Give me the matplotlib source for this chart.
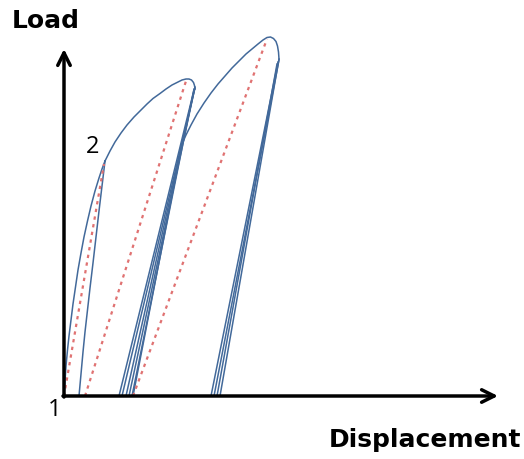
import matplotlib
matplotlib.use("Agg")
import matplotlib.pyplot as plt

# schematic load / displacement curve, units
load1_x = [0, 0.1, 0.2, 0.35, 0.5, 0.7, 0.9, 1.15, 1.4, 1.7, 2.0, 2.35, 2.7, 3.1, 3.5, 3.8, 4.1]
load1_y = [0, 1.5, 3.0, 4.6, 6.0, 7.6, 9.2, 10.9, 12.6, 14.3, 15.9, 17.5, 19.0, 20.5, 21.8, 22.7, 23.5]

unload1_x = [4.1, 3.8, 3.5, 3.2, 2.9, 2.6, 2.35, 2.1, 1.9, 1.7, 1.5]
unload1_y = [23.5, 21.0, 18.5, 15.9, 13.3, 10.8, 8.6, 6.4, 4.4, 2.2, 0]

load2_x = [4.1, 4.6, 5.1, 5.7, 6.3, 7.0, 7.6, 8.3, 8.9, 9.6, 10.2, 10.8, 11.4, 11.8, 12.2, 12.5, 12.75, 12.95, 13.05, 13.1]
load2_y = [23.5, 24.5, 25.4, 26.3, 27.1, 27.9, 28.5, 29.2, 29.75, 30.25, 30.7, 31.1, 31.4, 31.6, 31.7, 31.7, 31.6, 31.35, 31.05, 30.7]

load3_x = [6.9, 11.8, 12.2, 12.7, 13.3, 14.0, 14.7, 15.4, 16.1, 16.8, 17.5, 18.2, 18.8, 19.4, 19.9, 20.3, 20.65, 20.95, 21.2, 21.35, 21.45, 21.5]
load3_y = [0, 25.2, 26.1, 27.1, 28.2, 29.3, 30.3, 31.2, 32.0, 32.8, 33.5, 34.2, 34.7, 35.2, 35.6, 35.85, 35.9, 35.75, 35.45, 35.0, 34.4, 33.7]

# cyclic unload/reload bundles: foot on the x axis, top near the peak
bundle1_foot = [5.5, 5.8, 6.2, 6.5, 6.8]
bundle1_top_x = [13.0, 13.1, 13.0, 13.1, 13.0]
bundle1_top_y = [30.6, 30.8, 30.5, 30.9, 30.7]

bundle2_foot = [14.7, 15.0, 15.3, 15.6]
bundle2_top_x = [21.4, 21.5, 21.3, 21.5]
bundle2_top_y = [33.4, 33.6, 33.2, 33.7]

# secant (dashed) lines
sec_x0 = [0, 2.1, 6.9]
sec_x1 = [4.0, 12.2, 20.3]
sec_y1 = [23.2, 31.5, 35.7]

blue = "#42699a"
red = "#e07272"

fig = plt.figure(figsize=(5.24, 4.60), dpi=100)
ax = fig.add_axes([0, 0, 1, 1])
ax.set_xlim(-6.4, 46.0)
ax.set_ylim(-6.3, 39.7)
ax.axis("off")

lw = 1.1
for xs, ys in [(load1_x, load1_y), (unload1_x, unload1_y), (load2_x, load2_y), (load3_x, load3_y)]:
    ax.plot(xs, ys, color=blue, lw=lw, solid_joinstyle="round")
for f, tx, ty in zip(bundle1_foot, bundle1_top_x, bundle1_top_y):
    ax.plot([f, tx], [0, ty], color=blue, lw=lw)
for f, tx, ty in zip(bundle2_foot, bundle2_top_x, bundle2_top_y):
    ax.plot([f, tx], [0, ty], color=blue, lw=lw)

for x0, x1, y1 in zip(sec_x0, sec_x1, sec_y1):
    ax.plot([x0, x1], [0, y1], color=red, lw=1.6, ls=(0, (1.5, 2.0)))

# axes arrows
arrow = dict(arrowstyle="->,head_length=0.9,head_width=0.45", lw=2.5, color="black",
             shrinkA=0, shrinkB=0)
ax.annotate("", xy=(0, 34.7), xytext=(0, -0.1), arrowprops=arrow)
ax.annotate("", xy=(43.4, 0), xytext=(-0.1, 0), arrowprops=arrow)

ax.text(-5.2, 37.6, "Load", fontsize=18, fontweight="bold", family="DejaVu Sans",
        ha="left", va="center")
ax.text(45.7, -4.3, "Displacement", fontsize=18, fontweight="bold", family="DejaVu Sans",
        ha="right", va="center")
ax.text(-0.9, -1.3, "1", fontsize=17, family="Open Sans", ha="center", va="center")
ax.text(2.9, 25.0, "2", fontsize=17, family="Open Sans", ha="center", va="center")

fig.savefig("out.png", dpi=100)
